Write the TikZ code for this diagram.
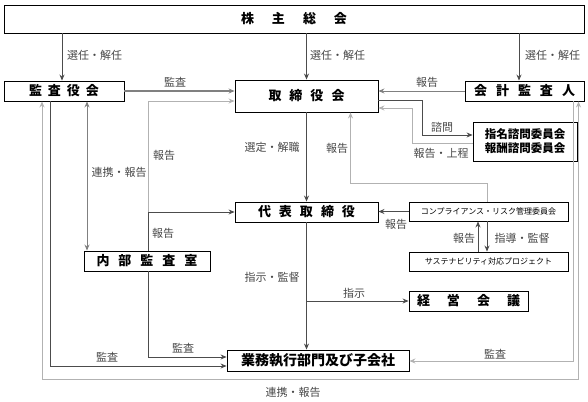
\documentclass[tikz,border=0pt]{standalone}
\usepackage{fontspec}
\setmainfont{Noto Sans CJK JP}
\usetikzlibrary{arrows.meta,calc}
\begin{document}
\begin{tikzpicture}[x=1pt,y=-1pt,
  box/.style={draw=black,line width=0.9pt,fill=white,inner sep=0pt,align=center,font=\fontsize{13}{15}\selectfont\bfseries},
  lbl/.style={text=black!72,font=\fontsize{11}{12}\selectfont,inner sep=0pt},
  ar/.style={-{Stealth[length=6pt,width=5pt,inset=2pt]}},
  ar2/.style={{Stealth[length=6pt,width=5pt,inset=2pt]}-{Stealth[length=6pt,width=5pt,inset=2pt]}},
  dk/.style={draw=black!70,line width=0.7pt},
  md/.style={draw=black!50,line width=0.8pt},
  lt/.style={draw=black!30,line width=0.9pt},
]
\useasboundingbox (0,0) rectangle (588,401);
% boxes
\node[box,minimum width=580pt,minimum height=28pt] (sh) at (294,19) {株\kern18pt 主\kern18pt 総\kern18pt 会};
\node[box,minimum width=120pt,minimum height=20pt] (kansa) at (64,91) {監\kern6pt 査\kern6pt 役\kern6pt 会};
\node[box,minimum width=143pt,minimum height=32pt] (tori) at (306.5,96) {取\kern8pt 締\kern8pt 役\kern8pt 会};
\node[box,minimum width=119pt,minimum height=20pt] (kaikei) at (524.5,91) {会\kern9pt 計\kern9pt 監\kern9pt 査\kern9pt 人};
\node[box,minimum width=104pt,minimum height=39pt,font=\fontsize{11.5}{14}\selectfont\bfseries] (shimei) at (525,141.5) {指名諮問委員会\\報酬諮問委員会};
\node[box,minimum width=143pt,minimum height=20pt] (daihyo) at (306.5,212) {代\kern8pt 表\kern8pt 取\kern8pt 締\kern8pt 役};
\node[box,minimum width=159pt,minimum height=19pt,font=\fontsize{8}{9}\selectfont] (comp) at (488.5,211.5) {コンプライアンス・リスク管理委員会};
\node[box,minimum width=159pt,minimum height=19pt,font=\fontsize{8}{9}\selectfont] (sust) at (488.5,261.5) {サステナビリティ対応プロジェクト};
\node[box,minimum width=126pt,minimum height=20pt] (naibu) at (147,261) {内\kern9pt 部\kern9pt 監\kern9pt 査\kern9pt 室};
\node[box,minimum width=119pt,minimum height=20pt] (keiei) at (468.5,301) {経\kern17pt 営\kern17pt 会\kern17pt 議};
\node[box,minimum width=182pt,minimum height=21pt,font=\fontsize{14}{16}\selectfont\bfseries] (gyomu) at (318,360.5) {業務執行部門及び子会社};
% coordinates
\coordinate (a1) at ([xshift=-2pt]kansa.north);
\coordinate (a3) at ([xshift=-5.5pt]kaikei.north);
\coordinate (n1) at ([xshift=1pt]naibu.north);
\coordinate (t1) at ([yshift=-5pt]tori.west);
\coordinate (k87) at ([xshift=23pt]kansa.south);
\coordinate (k50) at ([xshift=-14pt]kansa.south);
\coordinate (k42) at ([xshift=-22pt]kansa.south);
\coordinate (g1) at ([yshift=-5.5pt]gyomu.west);
\coordinate (g2) at ([yshift=-0.5pt]gyomu.east);
\coordinate (g3) at ([yshift=3.5pt]gyomu.west);
\coordinate (c578) at ([xshift=54pt]kaikei.south);
\coordinate (c573) at ([xshift=48.5pt]kaikei.south);
\coordinate (ly) at (0,379);
\coordinate (c1) at ([xshift=-1.5pt]comp.north);
\coordinate (y183) at (0,183);
\coordinate (t2) at ([xshift=44pt]tori.south);
\coordinate (s1) at ([xshift=-10.5pt]sust.north);
\coordinate (s2) at ([xshift=-1.5pt]comp.south);
\coordinate (t3) at ([yshift=-4pt]tori.east);
\coordinate (m1) at ([yshift=6.5pt]shimei.west);
\coordinate (m2) at ([yshift=-1.5pt]shimei.west);
\coordinate (t4) at ([yshift=-12pt]tori.east);
% connectors
\draw[dk,ar] (a1 |- sh.south) -- (a1);
\draw[dk,ar] (tori.north |- sh.south) -- (tori.north);
\draw[dk,ar] (a3 |- sh.south) -- (a3);
\draw[md,line width=1.4pt,ar] (kansa.east) -- (tori.west |- kansa.east);
\draw[md,ar] (kaikei.west) -- (tori.east |- kaikei.west);
\draw[dk,ar] (n1) |- (daihyo.west);
\draw[lt,ar] (n1 |- daihyo.west) |- (t1);
\draw[md,ar2] (k87) -- (k87 |- naibu.north);
\draw[dk,ar] (k50) |- (g1);
\draw[lt,ar2] (k42) -- (k42 |- ly) -- (c578 |- ly) -- (c578);
\draw[lt,ar] (c573) |- (g2);
\draw[dk,ar] (n1 |- naibu.south) |- (g3);
\draw[dk,ar] (tori.south) -- (daihyo.north);
\draw[dk,ar] (daihyo.south) -- (daihyo.south |- gyomu.north);
\draw[dk,ar] (daihyo.south |- keiei.west) -- (keiei.west);
\draw[dk,ar] (comp.west) -- (daihyo.east |- comp.west);
\draw[lt,ar] (c1) -- (c1 |- y183) -| (t2);
\draw[dk,ar] (s1) -- (s1 |- comp.south);
\draw[dk,ar] (s2) -- (s2 |- sust.north);
\draw[dk,ar] (t3) -- ++(44,0) |- (m1);
\draw[lt,ar] (m2) -- ++(-60,0) |- (t4);
% labels
\node[lbl,anchor=west] (l1) at (67,55) {選任・解任};
\node[lbl,anchor=west] (l2) at (310,55) {選任・解任};
\node[lbl,anchor=west] (l3) at (525,55) {選任・解任};
\node[lbl] (l4) at (175,82) {監査};
\node[lbl] (l5) at (427,82) {報告};
\node[lbl] (l6) at (164,155) {報告};
\node[lbl] (l7) at (119,172) {連携・報告};
\node[lbl] (l8) at (163,233) {報告};
\node[lbl] (l9) at (272,147) {選定・解職};
\node[lbl] (l10) at (337,148) {報告};
\node[lbl] (l11) at (442,127) {諮問};
\node[lbl] (l12) at (441,153) {報告・上程};
\node[lbl] (l13) at (396,224) {報告};
\node[lbl] (l14) at (464,238) {報告};
\node[lbl] (l15) at (522,238) {指導・監督};
\node[lbl] (l16) at (272,277) {指示・監督};
\node[lbl] (l17) at (354,293) {指示};
\node[lbl] (l18) at (183,348) {監査};
\node[lbl] (l19) at (107,357) {監査};
\node[lbl] (l20) at (495,354) {監査};
\node[lbl] (l21) at (293,392) {連携・報告};
\end{tikzpicture}
\end{document}
